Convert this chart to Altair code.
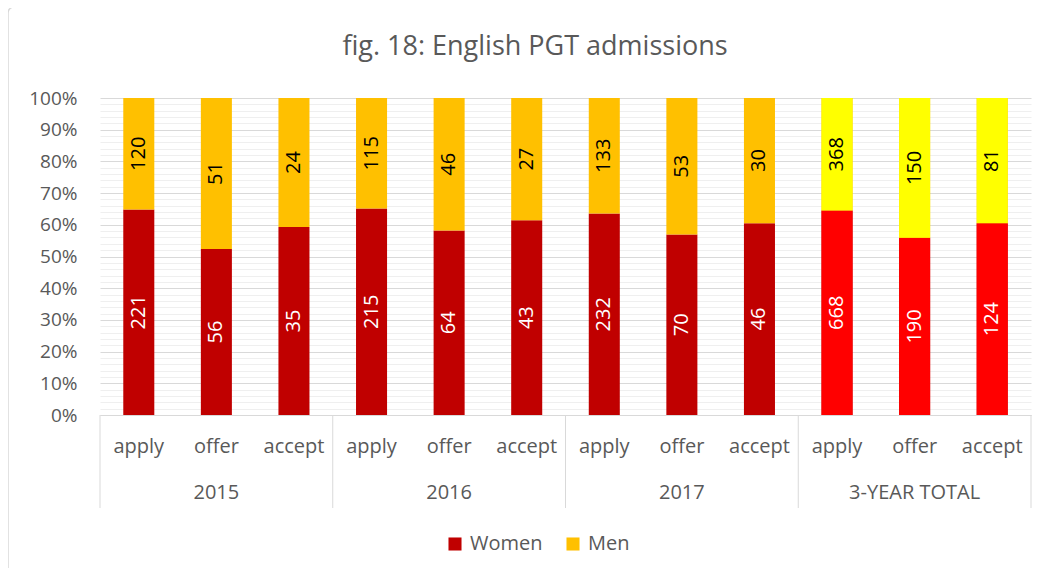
import altair as alt
import pandas as pd

title_text = "fig. 18: English PGT admissions"
years = ["2015", "2016", "2017", "3-YEAR TOTAL"]
stages = ["apply", "offer", "accept"]
women = [221, 56, 35, 215, 64, 43, 232, 70, 46, 668, 190, 124]
men = [120, 51, 24, 115, 46, 27, 133, 53, 30, 368, 150, 81]
sexes = ["Women", "Men"]
boundaries = [0, 1, 2, 3, 4]

keys = [f"{y}|{s}" for y in years for s in stages]
rows = []
for i, k in enumerate(keys):
    y, s = k.split("|")
    rows.append({"key": k, "year": y, "stage": s, "sex": "Women", "ord": 0, "count": women[i]})
    rows.append({"key": k, "year": y, "stage": s, "sex": "Men", "ord": 1, "count": men[i]})
df = pd.DataFrame(rows)
year_df = pd.DataFrame({"year": years, "key": [f"{y}|offer" for y in years]})
bound_df = pd.DataFrame({"b": boundaries})
title_df = pd.DataFrame({"t": [title_text]})

FONT = "Open Sans"
GREY = "#595959"
W, H = 931, 317

major = [round(i * 0.1, 1) for i in range(11)]
minor = [round(i * 0.02, 2) for i in range(51) if i % 5 != 0]

base = alt.Chart(df).transform_joinaggregate(
    total="sum(count)", groupby=["key"]
).transform_window(
    cum="sum(count)", sort=[alt.SortField("ord")], groupby=["key"], frame=[None, 0]
).transform_calculate(
    y1="(datum.cum - datum.count) / datum.total",
    y2="datum.cum / datum.total",
    mid="(datum.cum - datum.count / 2) / datum.total",
)

xscale = alt.Scale(domain=keys, paddingInner=0.6, paddingOuter=0.3)
xenc = alt.X(
    "key:N",
    sort=keys,
    scale=xscale,
    axis=alt.Axis(
        title=None,
        labelExpr="split(datum.label, '|')[1]",
        labelAngle=0,
        labelFontSize=20,
        labelFont=FONT,
        labelColor=GREY,
        labelPadding=21,
        ticks=False,
        domain=True,
        domainColor="#d9d9d9",
        grid=False,
    ),
)
xplain = alt.X("key:N", sort=keys, scale=xscale)

bars = base.mark_bar().encode(
    x=xenc,
    y=alt.Y(
        "y1:Q",
        scale=alt.Scale(domain=[0, 1], nice=False),
        axis=alt.Axis(
            values=major,
            format=".0%",
            title=None,
            grid=True,
            gridColor="#d9d9d9",
            ticks=False,
            domain=False,
            labelFontSize=19,
            labelFont=FONT,
            labelColor=GREY,
            labelPadding=23,
        ),
    ),
    y2="y2:Q",
    color=alt.Color(
        "sex:N",
        sort=sexes,
        scale=alt.Scale(domain=sexes, range=["#C00000", "#FFC000"]),
        legend=alt.Legend(
            title=None,
            orient="none",
            legendX=345,
            legendY=436,
            direction="horizontal",
            symbolType="square",
            symbolSize=170,
            symbolStrokeWidth=0,
            labelFontSize=20,
            labelFont=FONT,
            labelColor=GREY,
            labelOffset=5,
            columnPadding=20,
        ),
    ),
)

total_bars = base.transform_filter("datum.year === '3-YEAR TOTAL'").mark_bar().encode(
    x=xplain,
    y=alt.Y(
        "y1:Q",
        scale=alt.Scale(domain=[0, 1], nice=False),
        axis=alt.Axis(
            values=minor,
            orient="left",
            grid=True,
            gridColor="#efefef",
            labels=False,
            ticks=False,
            domain=False,
            title=None,
        ),
    ),
    y2="y2:Q",
    color=alt.condition("datum.sex === 'Women'", alt.value("#FF0000"), alt.value("#FFFF00")),
)

labels = base.mark_text(angle=270, fontSize=20, font=FONT).encode(
    x=xplain,
    y=alt.Y("mid:Q", scale=alt.Scale(domain=[0, 1], nice=False), axis=None),
    text="count:Q",
    color=alt.condition("datum.sex === 'Women'", alt.value("white"), alt.value("black")),
)

year_labels = alt.Chart(year_df).mark_text(fontSize=20, font=FONT, color=GREY, baseline="middle").encode(
    x=xplain,
    y=alt.value(395),
    text="year:N",
)

main = alt.layer(bars, total_bars, labels, year_labels).resolve_axis(y="independent")

seps = alt.Chart(bound_df).mark_rule(color="#d9d9d9", strokeWidth=1).encode(
    x=alt.X("b:Q", scale=alt.Scale(domain=[0, 4], nice=False, zero=False), axis=None),
    y=alt.value(H),
    y2=alt.value(410),
)

frame = alt.Chart(title_df).mark_rect(
    fill="transparent", stroke="#d9d9d9", strokeWidth=1.5, cornerRadius=6
).encode(
    x=alt.value(-92), x2=alt.value(1000), y=alt.value(-91), y2=alt.value(520)
)

title = alt.Chart(title_df).mark_text(
    fontSize=27, font=FONT, color=GREY, baseline="middle", align="center"
).encode(
    x=alt.value(435), y=alt.value(-51), text="t:N"
)

chart = alt.layer(
    frame, title, main, seps
).resolve_scale(x="independent").properties(
    width=W,
    height=H,
    autosize=alt.AutoSizeParams(type="none"),
    padding={"left": 92, "top": 90, "right": 12, "bottom": 153},
    background="white",
).configure_view(stroke=None)

chart.save("out.html", embed_options={"renderer": "svg", "actions": False})
